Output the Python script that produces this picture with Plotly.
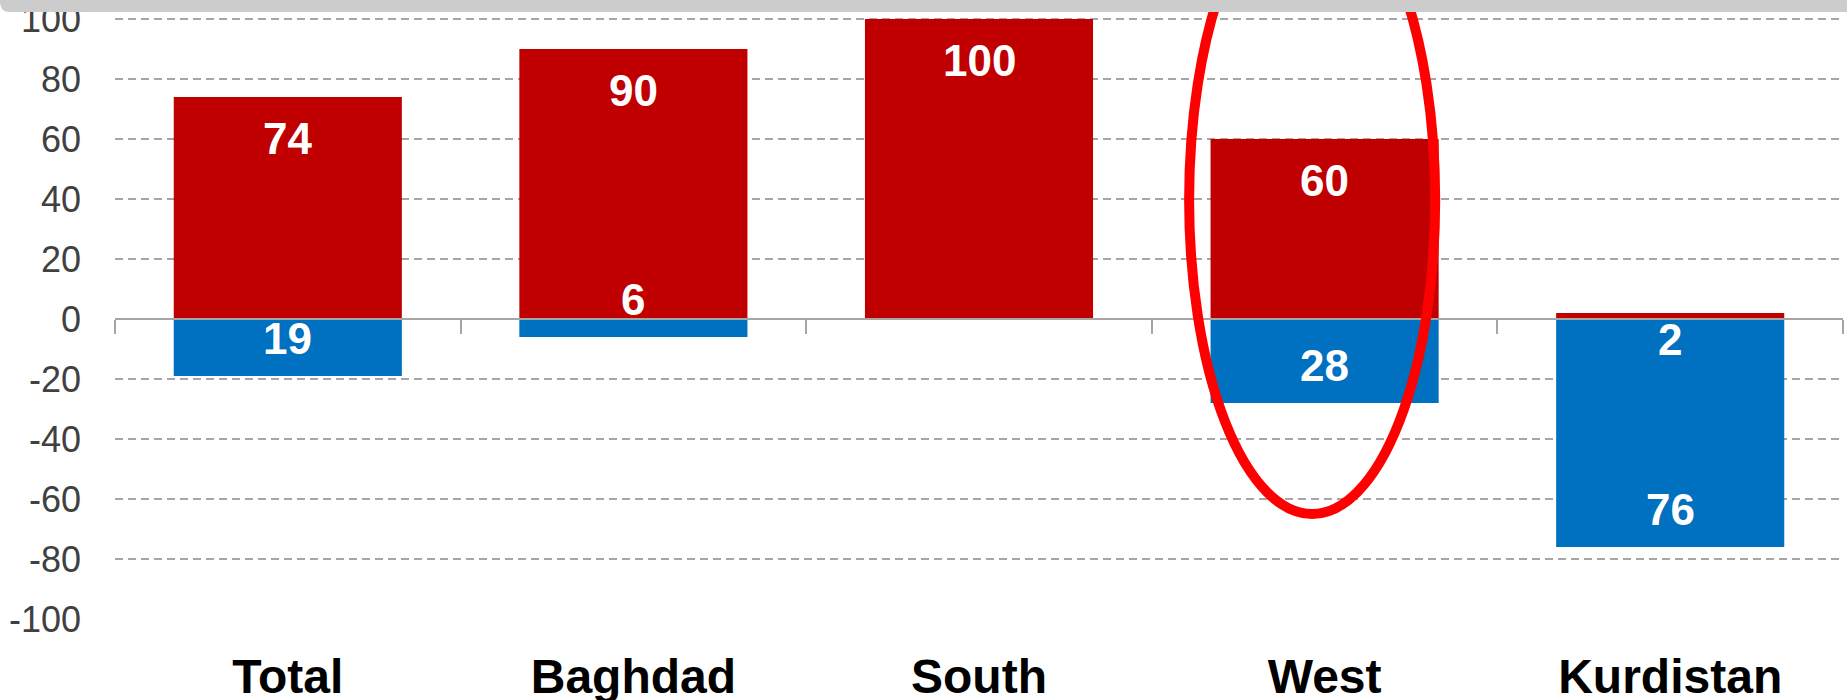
import plotly.graph_objects as go

# ---- data ----
categories = ["Total", "Baghdad", "South", "West", "Kurdistan"]
positive = [74, 90, 100, 60, 2]      # red bars (above zero)
negative = [19, 6, 0, 28, 76]        # blue bars (below zero, shown as magnitudes)
y_tick_values = list(range(-100, 101, 20))
highlight_category = "West"

# ---- styles ----
RED = "#C00000"
BLUE = "#0070C0"
FONT = "Liberation Sans, Arial, sans-serif"
W, H = 1847, 700
M_L, M_R, M_T, M_B = 115, 4, 0, 80
Y_MIN, Y_MAX = -100.33, 106.33

fig = go.Figure()
fig.add_bar(x=categories, y=positive, marker=dict(color=RED, line=dict(width=0)),
            hoverinfo="skip", showlegend=False)
fig.add_bar(x=categories, y=[-v for v in negative], marker=dict(color=BLUE, line=dict(width=0)),
            hoverinfo="skip", showlegend=False)
# invisible helper trace so the zero-line axis has the categories
fig.add_scatter(x=categories, y=[0] * len(categories), xaxis="x2", yaxis="y", mode="markers",
                marker=dict(opacity=0), hoverinfo="skip", showlegend=False)

# ---- value labels ----
lab_font = dict(family=FONT, size=44, color="white", weight="bold")
SMALL = 10
for c, p, n in zip(categories, positive, negative):
    if p:
        if p >= SMALL:
            fig.add_annotation(x=c, y=p, yshift=-42, text=str(p), showarrow=False,
                               yanchor="middle", font=lab_font)
        else:
            fig.add_annotation(x=c, y=0, yshift=-20, text=str(p), showarrow=False,
                               yanchor="middle", font=lab_font)
    if n:
        if n >= SMALL:
            fig.add_annotation(x=c, y=-n, yshift=37.5, text=str(n), showarrow=False,
                               yanchor="middle", font=lab_font)
        else:
            fig.add_annotation(x=c, y=0, yshift=20, text=str(n), showarrow=False,
                               yanchor="middle", font=lab_font)

# ---- highlight ellipse around West ----
hi = categories.index(highlight_category)
cx = hi - 0.036
fig.add_shape(type="circle", xref="x", yref="y", x0=cx - 0.356, x1=cx + 0.356,
              y0=-65, y1=144.4, line=dict(color="#FF0000", width=10), layer="above")

# ---- grey banner at top ----
pw = W - M_L - M_R
ph = H - M_T - M_B
x0 = -M_L / pw
x1 = (W - M_L) / pw
yb = 1 - 12 / ph
rx, ry = 10 / pw, 10 / ph
path = (f"M {x0},{1.05} L {x1},{1.05} L {x1},{yb} L {x0 + rx},{yb} "
        f"Q {x0},{yb} {x0},{yb + ry} Z")
fig.add_shape(type="path", xref="paper", yref="paper", path=path,
              fillcolor="#CCCCCC", line=dict(width=0), layer="above")

zero_pos = (0 - Y_MIN) / (Y_MAX - Y_MIN)

fig.update_layout(
    width=W, height=H,
    margin=dict(l=M_L, r=M_R, t=M_T, b=M_B, pad=0),
    barmode="relative", bargap=0.34,
    plot_bgcolor="white", paper_bgcolor="white",
    font=dict(family=FONT),
    xaxis=dict(type="category", categoryorder="array", categoryarray=categories,
               showline=False, showgrid=False, zeroline=False, ticks="",
               tickfont=dict(family=FONT, size=48, color="black", weight="bold"),
               ticklabelstandoff=24, ticklabeloverflow="allow",
               automargin=False, fixedrange=True),
    xaxis2=dict(type="category", overlaying="x", matches="x", anchor="free", position=zero_pos,
                showline=True, linecolor="#A6A6A6", linewidth=2,
                ticks="outside", tickson="boundaries", ticklen=14, tickwidth=2,
                tickcolor="#A6A6A6", showticklabels=False, showgrid=False, zeroline=False,
                automargin=False),
    yaxis=dict(range=[Y_MIN, Y_MAX], tickvals=y_tick_values,
               ticktext=[str(v) for v in y_tick_values],
               showgrid=True, gridcolor="#A6A6A6", gridwidth=1.8, griddash="8px,5px",
               zeroline=False, showline=False, ticks="",
               tickfont=dict(family=FONT, size=36, color="#404040"),
               ticklabelstandoff=33, ticklabeloverflow="allow",
               automargin=False, fixedrange=True),
)

fig.write_html("out.html", config={"displayModeBar": False},
               post_script="document.body.style.margin='0';document.body.style.overflow='hidden';")
